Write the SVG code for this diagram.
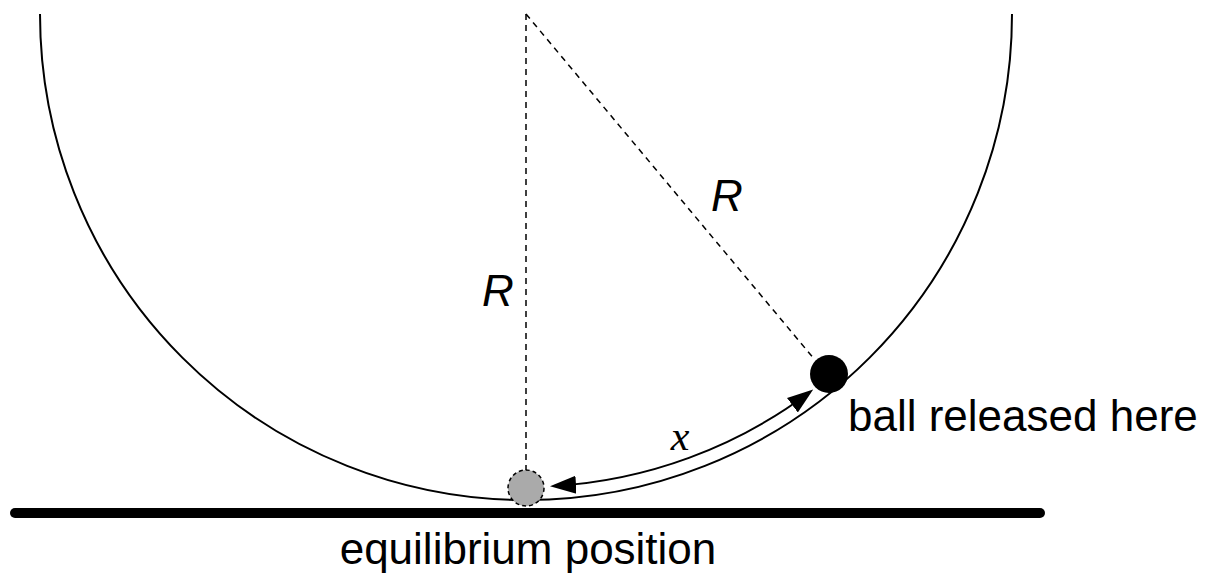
<svg xmlns="http://www.w3.org/2000/svg" width="1218" height="584" viewBox="0 0 1218 584">
<style>
.lbl{font-family:"Liberation Sans",Arial,sans-serif;font-size:44px;fill:#000}
.dash{stroke:#000;stroke-width:1.5;stroke-dasharray:6,5;fill:none}
</style>
<defs>
<marker id="ah" viewBox="0 0 26 20" refX="22" refY="10" markerWidth="26" markerHeight="20" orient="auto-start-reverse" markerUnits="userSpaceOnUse">
<path d="M0,1 L26,10 L0,19 z" fill="#000"/>
</marker>
</defs>
<rect width="1218" height="584" fill="#fff"/>
<g id="bowl"><path d="M40,14 A486,486 0 0 0 1012,14" fill="none" stroke="#000" stroke-width="2"/></g>
<g id="ground"><line x1="15" y1="513" x2="1040" y2="513" stroke="#000" stroke-width="10" stroke-linecap="round"/></g>
<g id="connectors">
<line class="dash" x1="526" y1="14" x2="526" y2="472"/>
<line class="dash" x1="526" y1="14" x2="815" y2="360"/>
<path d="M554,486 A473,473 0 0 0 810,392" fill="none" stroke="#000" stroke-width="2" marker-start="url(#ah)" marker-end="url(#ah)"/>
</g>
<g id="equilibrium"><circle cx="526" cy="488" r="18" fill="#aaa" stroke="#000" stroke-width="1.5" stroke-dasharray="4,3"/></g>
<g id="ball"><circle cx="829" cy="374" r="19" fill="#000"/></g>
<g id="labels">
<text class="lbl" x="498" y="306" text-anchor="middle" font-style="italic">R</text>
<text class="lbl" x="727" y="211" text-anchor="middle" font-style="italic">R</text>
<text x="680" y="450" text-anchor="middle" font-family="Liberation Serif,serif" font-style="italic" font-size="42">x</text>
<text class="lbl" x="848" y="431">ball released here</text>
<text class="lbl" x="528" y="564" text-anchor="middle">equilibrium position</text>
</g>
</svg>
